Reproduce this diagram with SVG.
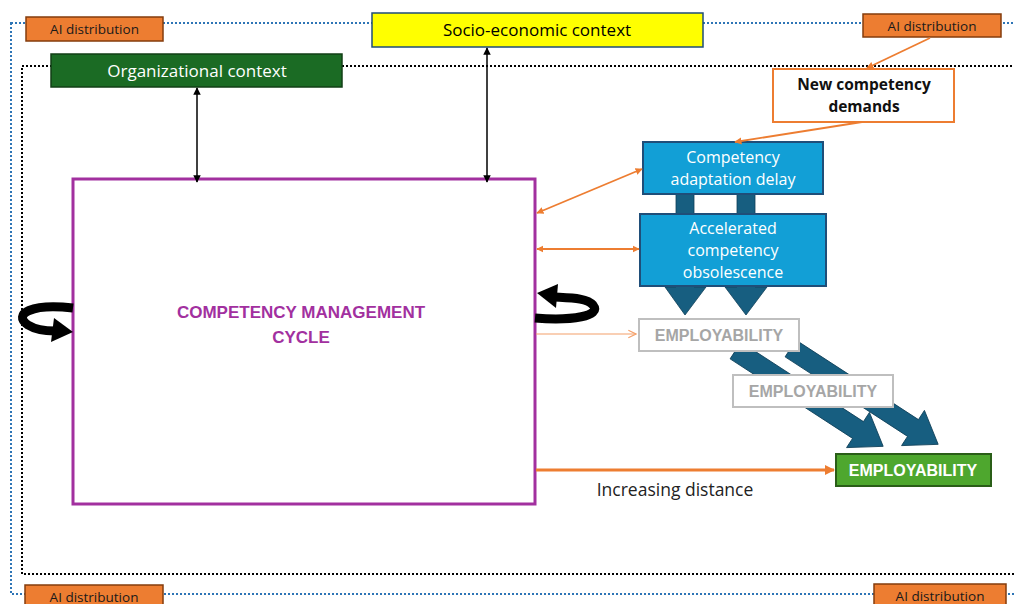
<svg xmlns="http://www.w3.org/2000/svg" width="1014" height="604" viewBox="0 0 1014 604">
<style>
.ai{fill:#ED7D31;stroke:#843C0C;stroke-width:1.5}
.ait{font-family:"Open Sans","Liberation Sans",Arial,sans-serif;font-size:13.5px;fill:#1a1a1a;text-anchor:middle}
.t{font-family:"Open Sans","Liberation Sans",Arial,sans-serif;text-anchor:middle}
.emp{fill:#fff;stroke:#BFBFBF;stroke-width:2}
.empt{font-family:"Liberation Sans",Arial,sans-serif;font-size:16px;font-weight:bold;fill:#A6A6A6;text-anchor:middle}
.blue{fill:#129FD6;stroke:#1F4E79;stroke-width:2}
.bt{font-family:"Open Sans","Liberation Sans",Arial,sans-serif;font-size:16px;fill:#fff;text-anchor:middle}
.darr{fill:#175E80;stroke:#0f3f58;stroke-width:0.8}
.oc{stroke:#ED7D31;stroke-width:1.8;fill:none}
.bk{stroke:#000;stroke-width:1.5;fill:none}
</style>
<defs>
<marker id="oa" viewBox="0 0 10 10" refX="9" refY="5" markerWidth="4" markerHeight="4" orient="auto-start-reverse"><path d="M0,0 L10,5 L0,10 Z" fill="#ED7D31"/></marker>
<marker id="oa2" viewBox="0 0 10 10" refX="9" refY="5" markerWidth="3.5" markerHeight="4" orient="auto"><path d="M0,0 L10,5 L0,10 Z" fill="#ED7D31"/></marker>
<marker id="lo" viewBox="0 0 10 10" refX="9" refY="5" markerWidth="8" markerHeight="8" orient="auto"><path d="M1,1 L9,5 L1,9" fill="none" stroke="#F4A06A" stroke-width="1.2"/></marker>
<marker id="ka" viewBox="0 0 10 10" refX="9" refY="5" markerWidth="5" markerHeight="5" orient="auto-start-reverse"><path d="M0,0 L10,5 L0,10 Z" fill="#000"/></marker>
<polygon id="darrow" points="0,-10 -146,-10 -146,10 0,10 0,21 30,0 0,-21"/>
</defs>
<rect width="1014" height="604" fill="#fff"/>
<g id="frames">
<rect x="11" y="23" width="1020" height="571" fill="none" stroke="#2E75B6" stroke-width="2" stroke-dasharray="2,2"/>
<rect x="22" y="66" width="1010" height="508" fill="none" stroke="#000" stroke-width="2" stroke-dasharray="2,2"/>
</g>
<g id="diag-arrows">
<use href="#darrow" class="darr" transform="translate(858,430) rotate(33)"/>
<use href="#darrow" class="darr" transform="translate(913,428) rotate(33)"/>
<polygon class="darr" points="676,194 694,194 694,287 706,287 685,315 665,287 676,287"/>
<polygon class="darr" points="737,194 755,194 755,287 767,287 746,315 725,287 737,287"/>
</g>
<g id="ai-tl"><rect class="ai" x="26" y="17" width="137" height="24"/><text class="ait" x="94.5" y="34">AI distribution</text></g>
<g id="ai-tr"><rect class="ai" x="863" y="14" width="138" height="23"/><text class="ait" x="932" y="31">AI distribution</text></g>
<g id="ai-bl"><rect class="ai" x="25" y="585" width="138" height="24"/><text class="ait" x="94" y="602">AI distribution</text></g>
<g id="ai-br"><rect class="ai" x="874" y="584" width="132" height="24"/><text class="ait" x="940" y="601">AI distribution</text></g>
<g id="socio"><rect x="372" y="13" width="331" height="34" fill="#FFFF00" stroke="#1F4E79" stroke-width="1.5"/><text class="t" x="537" y="36" font-size="17" fill="#000">Socio-economic context</text></g>
<g id="org"><rect x="51" y="54" width="291" height="33" fill="#1B6B24" stroke="#123f16" stroke-width="1.5"/><text class="t" x="197" y="77" font-size="17" fill="#fff">Organizational context</text></g>
<g id="cycle"><rect x="73" y="179" width="462" height="325" fill="#fff" stroke="#A2309F" stroke-width="3"/><text x="301" y="318" font-family="Liberation Sans,Arial,sans-serif" text-anchor="middle" font-size="17" font-weight="bold" fill="#A2309F">COMPETENCY MANAGEMENT</text><text x="301" y="343" font-family="Liberation Sans,Arial,sans-serif" text-anchor="middle" font-size="17" font-weight="bold" fill="#A2309F">CYCLE</text></g>
<g id="new-demands"><rect x="773" y="69" width="181" height="53" fill="#fff" stroke="#ED7D31" stroke-width="2"/><text class="t" x="864" y="90" font-size="15.5" font-weight="bold" fill="#111">New competency</text><text class="t" x="864" y="112" font-size="15.5" font-weight="bold" fill="#111">demands</text></g>
<g id="adapt-delay"><rect class="blue" x="643" y="142" width="180" height="52"/><text class="bt" x="733" y="163">Competency</text><text class="bt" x="733" y="185">adaptation delay</text></g>
<g id="obsolescence"><rect class="blue" x="640" y="214" width="186" height="72"/><text class="bt" x="733" y="234">Accelerated</text><text class="bt" x="733" y="256">competency</text><text class="bt" x="733" y="278">obsolescence</text></g>
<g id="emp1"><rect class="emp" x="639" y="319" width="160" height="32"/><text class="empt" x="719" y="341">EMPLOYABILITY</text></g>
<g id="emp2"><rect class="emp" x="733" y="375" width="160" height="32"/><text class="empt" x="813" y="397">EMPLOYABILITY</text></g>
<g id="emp3"><rect x="836" y="454" width="155" height="32" fill="#4EA72E" stroke="#2A5E18" stroke-width="2"/><text x="913" y="476" font-family="Liberation Sans,Arial,sans-serif" text-anchor="middle" font-size="16" font-weight="bold" fill="#fff">EMPLOYABILITY</text></g>
<g id="connectors">
<line class="bk" x1="197" y1="88" x2="197" y2="182" marker-start="url(#ka)" marker-end="url(#ka)"/>
<line class="bk" x1="487" y1="48" x2="487" y2="182" marker-start="url(#ka)" marker-end="url(#ka)"/>
<line class="oc" x1="930" y1="38" x2="867" y2="68" marker-end="url(#oa)"/>
<line class="oc" x1="862" y1="122" x2="735" y2="142" marker-end="url(#oa)"/>
<line class="oc" x1="537" y1="213" x2="642" y2="169" marker-start="url(#oa)" marker-end="url(#oa)"/>
<line class="oc" x1="537" y1="249" x2="639" y2="249" marker-start="url(#oa)" marker-end="url(#oa)"/>
<line x1="536" y1="334" x2="636" y2="334" stroke="#F4A06A" stroke-width="1.2" marker-end="url(#lo)"/>
<line x1="536" y1="470" x2="834" y2="470" stroke="#ED7D31" stroke-width="3" marker-end="url(#oa2)"/>
<path d="M73,308 C32,303 12,314 28,325 C36,330 46,331 55,331" fill="none" stroke="#000" stroke-width="9"/>
<polygon points="54,318 73,332 51,342" fill="#000"/>
<path d="M535,318 C572,321 602,316 593,305 C587,298 572,298 554,297" fill="none" stroke="#000" stroke-width="9"/>
<polygon points="558,284 537,293 556,308" fill="#000"/>
</g>
<text id="distance-label" class="t" x="675" y="496" font-size="17.5" fill="#222">Increasing distance</text>
</svg>
